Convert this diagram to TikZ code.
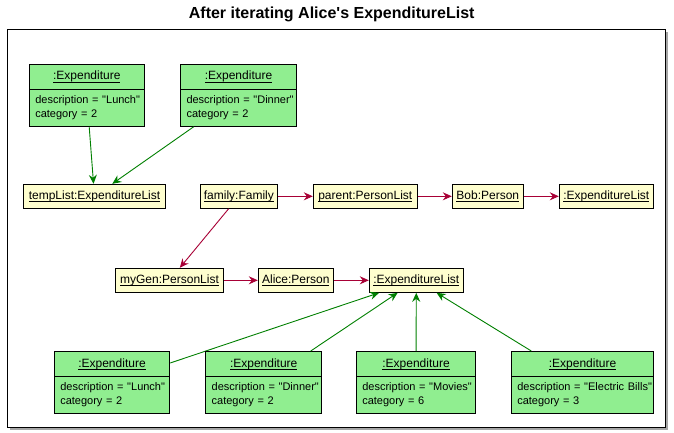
\documentclass[tikz,border=0pt]{standalone}
\usepackage{fontspec}
\setmainfont{Liberation Sans}[Ligatures=TeXOff]
\usetikzlibrary{arrows.meta, shapes.multipart}
\definecolor{obj_yellow}{HTML}{FEFECE}
\definecolor{obj_green}{HTML}{90EE90}
\definecolor{link_red}{HTML}{A80036}
\definecolor{link_green}{HTML}{008000}
\newcommand{\uname}[1]{\leavevmode\vtop{\setbox0\hbox{#1}\dp0=0pt\box0\kern1.8pt\hrule height 0.9pt}}
\newcommand{\expname}{\hbox to\hsize{\hfil\fontsize{12}{15}\selectfont\uname{:Expenditure}\strut\hfil}}

\begin{document}
\begin{tikzpicture}[x=1pt, y=-1pt,
    obj/.style={draw=black, line width=1pt, fill=obj_yellow, minimum height=24pt, inner sep=0pt, font=\fontsize{12}{15}\selectfont},
    expobj/.style={draw=black, line width=1pt, fill=obj_green, rectangle split, rectangle split parts=2, align=left, inner xsep=6pt, inner ysep=4.5pt, text width=#1-12pt, font=\fontsize{11}{13.5}\selectfont},
    redlink/.style={-{Stealth[length=9pt, width=8pt, inset=3pt]}, link_red, line width=0.9pt},
    greenlink/.style={-{Stealth[length=9pt, width=8pt, inset=3pt]}, link_green, line width=0.9pt}]
      \useasboundingbox (0,0) rectangle (674,432);

      \node[anchor=base, font=\bfseries\fontsize{16}{19}\selectfont] (title) at (331.7,18.7) {After iterating Alice's ExpenditureList};

      % frame with shadow
      \fill[black!35] (9.5,31.5) rectangle (667.5,429.5);
      \draw[fill=white, line width=1pt] (7,29) rectangle (665,427);

      % yellow objects
      \node[obj, minimum width=142.4pt] (tempList) at (94.5,196.3) {\uname{tempList:ExpenditureList}};
      \node[obj, minimum width=77.2pt] (family) at (238.9,196.3) {\uname{family:Family}};
      \node[obj, minimum width=104pt] (parent) at (365.3,196.3) {\uname{parent:PersonList}};
      \node[obj, minimum width=71pt] (bob) at (487.8,196.3) {\uname{Bob:Person}};
      \node[obj, minimum width=94pt] (bobList) at (606.3,196.3) {\uname{:ExpenditureList}};
      \node[obj, minimum width=108.4pt] (myGen) at (169.5,280.3) {\uname{myGen:PersonList}};
      \node[obj, minimum width=75pt] (alice) at (295.8,280.3) {\uname{Alice:Person}};
      \node[obj, minimum width=94pt] (aliceList) at (416.3,280.3) {\uname{:ExpenditureList}};

      \draw[redlink] (family) -- (parent);
      \draw[redlink] (parent) -- (bob);
      \draw[redlink] (bob) -- (bobList);
      \draw[redlink] (family) -- (myGen);
      \draw[redlink] (myGen) -- (alice);
      \draw[redlink] (alice) -- (aliceList);

      % expenditures of tempList
      \node[expobj=115pt] (tempLunch) at (86.8,95.3) {\expname\nodepart{two}\strut\mbox{description = "Lunch"}\\category = 2\strut};
      \node[expobj=116pt] (tempDinner) at (238.5,95.3) {\expname\nodepart{two}\strut\mbox{description = "Dinner"}\\category = 2\strut};
      \draw[greenlink] (tempLunch) -- (tempList);
      \draw[greenlink] (tempDinner) -- (tempList);

      % expenditures of Alice
      \foreach \name/\x/\w/\desc/\cat in {lunch/112/115.4/Lunch/2, dinner/263.7/116/Dinner/2, movies/416/119.4/Movies/6, bills/582.5/142.4/Electric Bills/3} {
        \node[expobj=\w pt] (\name) at (\x,382.5) {\expname\nodepart{two}\strut\mbox{description = "\desc"}\\category = \cat\strut};
        \draw[greenlink] (\name) -- (aliceList);
      }

    \end{tikzpicture}
\end{document}
